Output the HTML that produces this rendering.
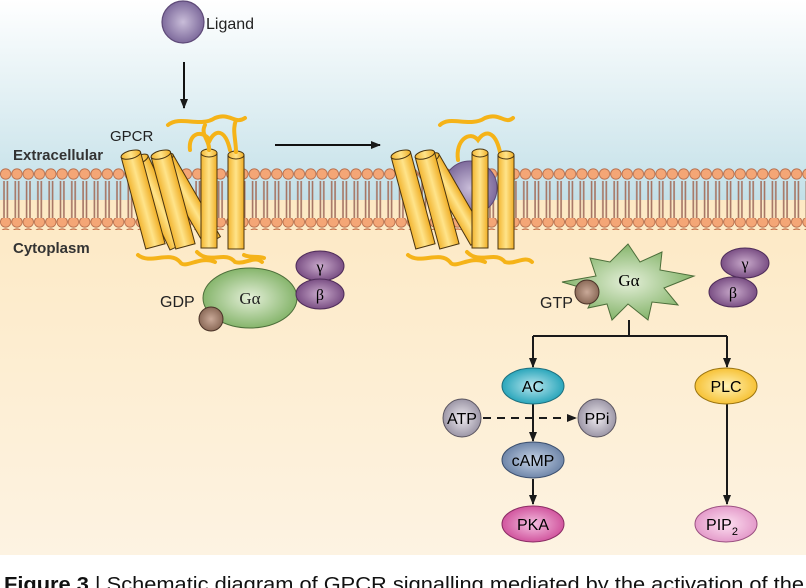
<!DOCTYPE html>
<html><head><meta charset="utf-8"><style>
html,body{margin:0;padding:0;background:#fff}
svg{display:block}
text{font-family:"Liberation Sans",sans-serif}
</style></head><body>
<svg width="806" height="588" viewBox="0 0 806 588" xmlns="http://www.w3.org/2000/svg">
<defs>
<linearGradient id="bg" x1="0" y1="0" x2="0" y2="1">
<stop offset="0" stop-color="#ffffff"/><stop offset="1" stop-color="#c3e0e8"/></linearGradient>
<linearGradient id="bg2" x1="0" y1="0" x2="0" y2="1">
<stop offset="0" stop-color="#fde9c4"/><stop offset="1" stop-color="#fdf3e2"/></linearGradient>
<radialGradient id="pur"><stop offset="0" stop-color="#c9bdd9"/><stop offset="1" stop-color="#7e6b9c"/></radialGradient>
<radialGradient id="vio"><stop offset="0" stop-color="#c9aacb"/><stop offset="1" stop-color="#7a4f84"/></radialGradient>
<radialGradient id="grn"><stop offset="0" stop-color="#e4efd8"/><stop offset="1" stop-color="#86b56c"/></radialGradient>
<radialGradient id="brn"><stop offset="0" stop-color="#c9a998"/><stop offset="1" stop-color="#8b6a58"/></radialGradient>
<radialGradient id="teal"><stop offset="0" stop-color="#b8e6ee"/><stop offset="1" stop-color="#2aa6bb"/></radialGradient>
<radialGradient id="gry"><stop offset="0" stop-color="#eeeaf0"/><stop offset="1" stop-color="#9c96a6"/></radialGradient>
<radialGradient id="blu"><stop offset="0" stop-color="#c6d3e6"/><stop offset="1" stop-color="#6f86a9"/></radialGradient>
<radialGradient id="yel"><stop offset="0" stop-color="#fff3b8"/><stop offset="1" stop-color="#f7c236"/></radialGradient>
<radialGradient id="pk"><stop offset="0" stop-color="#f4bfe0"/><stop offset="1" stop-color="#d1559e"/></radialGradient>
<radialGradient id="pk2"><stop offset="0" stop-color="#fde0f1"/><stop offset="1" stop-color="#e49bca"/></radialGradient>
<linearGradient id="cyl" x1="0" y1="0" x2="1" y2="0"><stop offset="0" stop-color="#f2b531"/><stop offset="0.5" stop-color="#ffe48a"/><stop offset="1" stop-color="#f0ae25"/></linearGradient>
<pattern id="heads" x="0" y="0" width="11.3" height="12" patternUnits="userSpaceOnUse">
<circle cx="5.65" cy="6" r="5.2" fill="#f4a676" stroke="#b46a48" stroke-width="0.8"/></pattern>
<pattern id="tails" x="0" y="0" width="11.3" height="40" patternUnits="userSpaceOnUse">
<rect x="3.2" y="0" width="1.6" height="40" fill="#a57463"/><rect x="6.6" y="0" width="1.6" height="40" fill="#a57463"/></pattern>
<marker id="ah" markerWidth="10" markerHeight="10" refX="9" refY="5" orient="auto" markerUnits="userSpaceOnUse"><path d="M0,1 L10,5 L0,9 Z" fill="#1a1a1a"/></marker>
</defs>
<rect x="0" y="0" width="806" height="200" fill="url(#bg)"/>
<rect x="0" y="200" width="806" height="355" fill="url(#bg2)"/>
<rect x="0" y="181" width="806" height="38" fill="url(#tails)"/>
<rect x="0" y="168" width="806" height="12" fill="url(#heads)"/>
<rect x="0" y="218" width="806" height="12" fill="url(#heads)"/>

<circle cx="183" cy="22" r="21" fill="url(#pur)" stroke="#5e4a78" stroke-width="1.2"/>
<text x="206" y="29" font-size="16" fill="#222">Ligand</text>
<line x1="184" y1="62" x2="184" y2="108" stroke="#111" stroke-width="2" marker-end="url(#ah)"/>
<line x1="275" y1="145" x2="380" y2="145" stroke="#111" stroke-width="2" marker-end="url(#ah)"/>
<text x="110" y="141" font-size="15" fill="#222">GPCR</text>
<text x="13" y="160" font-size="15" font-weight="bold" fill="#333">Extracellular</text>
<text x="13" y="253" font-size="15" font-weight="bold" fill="#333">Cytoplasm</text>

<g stroke="#f5b318" stroke-width="4" fill="none" stroke-linecap="round">
<path d="M168,125 C180,115 200,128 215,118 C230,112 235,125 245,118"/>
<path d="M190,150 C188,135 200,128 210,140 C215,130 225,128 230,150"/>
<path d="M138,255 C150,265 170,250 180,262 C185,270 200,255 215,262"/>
<path d="M197,252 C210,265 225,250 235,262 C245,265 255,255 262,262"/>
</g>
<g stroke="#4a3510" stroke-width="1" fill="url(#cyl)">
<g transform="rotate(-25 160 205)"><rect x="150" y="155" width="20" height="95"/><ellipse cx="160" cy="155" rx="10" ry="4"/></g>
<g transform="rotate(-15 143 200)"><rect x="133" y="153" width="20" height="95"/><ellipse cx="143" cy="153" rx="10" ry="4"/></g>
<g transform="rotate(-30 190 200)"><rect x="180" y="152" width="18" height="95"/><ellipse cx="189" cy="152" rx="9" ry="4"/></g>
<g transform="rotate(-15 173 200)"><rect x="163" y="153" width="20" height="95"/><ellipse cx="173" cy="153" rx="10" ry="4"/></g>
<rect x="201" y="153" width="16" height="95"/><ellipse cx="209" cy="153" rx="8" ry="4"/>
<rect x="228" y="155" width="16" height="94"/><ellipse cx="236" cy="155" rx="8" ry="4"/>
</g>
<g stroke="#f5b318" stroke-width="4" fill="none" stroke-linecap="round">
<path d="M236,152 C236,140 232,130 236,120"/>
<path d="M209,150 C210,140 200,135 205,125"/>
<path d="M244,255 C250,258 258,256 264,258"/>
</g>
<ellipse cx="250" cy="298" rx="47" ry="30" fill="url(#grn)" stroke="#4c6e3a" stroke-width="1"/>
<text x="250" y="304" font-size="17" text-anchor="middle" style="font-family:'Liberation Serif',serif" fill="#222">Gα</text>
<ellipse cx="320" cy="266" rx="24" ry="15" fill="url(#vio)" stroke="#4f2d5a"/>
<ellipse cx="320" cy="294" rx="24" ry="15" fill="url(#vio)" stroke="#4f2d5a"/>
<text x="320" y="272" font-size="16" text-anchor="middle" style="font-family:'Liberation Serif',serif">γ</text>
<text x="320" y="300" font-size="16" text-anchor="middle" style="font-family:'Liberation Serif',serif">β</text>
<circle cx="211" cy="319" r="12" fill="url(#brn)" stroke="#4a3328"/>
<text x="160" y="307" font-size="16" fill="#222">GDP</text>

<g stroke="#f5b318" stroke-width="4" fill="none" stroke-linecap="round">
<path d="M440,125 C450,115 470,128 485,118 C500,112 505,125 513,118"/>
<path d="M458,160 C455,140 470,130 478,140 C485,130 495,130 500,152"/>
<path d="M408,255 C420,265 440,250 450,262 C455,270 470,255 485,262"/>
<path d="M467,252 C480,265 495,250 505,262 C515,265 525,255 532,262"/>
</g>
<circle cx="470" cy="188" r="27" fill="url(#pur)" stroke="#5e4a78"/>
<g stroke="#4a3510" stroke-width="1" fill="url(#cyl)">
<g transform="rotate(-15 413 200)"><rect x="403" y="153" width="20" height="95"/><ellipse cx="413" cy="153" rx="10" ry="4"/></g>
<g transform="rotate(-30 455 200)"><rect x="446" y="152" width="18" height="95"/><ellipse cx="455" cy="152" rx="9" ry="4"/></g>
<g transform="rotate(-15 437 200)"><rect x="427" y="153" width="20" height="95"/><ellipse cx="437" cy="153" rx="10" ry="4"/></g>
<rect x="472" y="153" width="16" height="95"/><ellipse cx="480" cy="153" rx="8" ry="4"/>
<rect x="498" y="155" width="16" height="94"/><ellipse cx="506" cy="155" rx="8" ry="4"/>
</g>
<path d="M628,244 L640,262 L662,252 L660,270 L694,276 L664,288 L678,305 L652,302 L648,320 L628,304 L612,320 L607,304 L588,308 L596,292 L562,282 L596,276 L590,258 L610,262 Z" fill="url(#grn)" stroke="#4c6e3a"/>
<text x="629" y="286" font-size="17" text-anchor="middle" style="font-family:'Liberation Serif',serif">Gα</text>
<circle cx="587" cy="292" r="12" fill="url(#brn)" stroke="#4a3328"/>
<text x="540" y="308" font-size="16" fill="#222">GTP</text>
<ellipse cx="745" cy="263" rx="24" ry="15" fill="url(#vio)" stroke="#4f2d5a"/>
<ellipse cx="733" cy="292" rx="24" ry="15" fill="url(#vio)" stroke="#4f2d5a"/>
<text x="745" y="269" font-size="16" text-anchor="middle" style="font-family:'Liberation Serif',serif">γ</text>
<text x="733" y="298" font-size="16" text-anchor="middle" style="font-family:'Liberation Serif',serif">β</text>

<g stroke="#1a1a1a" stroke-width="2" fill="none">
<line x1="629" y1="320" x2="629" y2="336"/>
<line x1="533" y1="336" x2="727" y2="336"/>
<line x1="533" y1="336" x2="533" y2="367" marker-end="url(#ah)"/>
<line x1="727" y1="336" x2="727" y2="367" marker-end="url(#ah)"/>
<line x1="533" y1="404" x2="533" y2="441" marker-end="url(#ah)"/>
<line x1="533" y1="479" x2="533" y2="504" marker-end="url(#ah)"/>
<line x1="727" y1="404" x2="727" y2="504" marker-end="url(#ah)"/>
<line x1="483" y1="418" x2="576" y2="418" stroke-dasharray="8,6" marker-end="url(#ah)"/>
</g>
<ellipse cx="533" cy="386" rx="31" ry="18" fill="url(#teal)" stroke="#1e6f7d"/>
<text x="533" y="392" font-size="16" text-anchor="middle">AC</text>
<circle cx="462" cy="418" r="19" fill="url(#gry)" stroke="#5a5560"/>
<text x="462" y="424" font-size="16" text-anchor="middle">ATP</text>
<circle cx="597" cy="418" r="19" fill="url(#gry)" stroke="#5a5560"/>
<text x="597" y="424" font-size="16" text-anchor="middle">PPi</text>
<ellipse cx="533" cy="460" rx="31" ry="18" fill="url(#blu)" stroke="#3b4f6e"/>
<text x="533" y="466" font-size="16" text-anchor="middle">cAMP</text>
<ellipse cx="533" cy="524" rx="31" ry="18" fill="url(#pk)" stroke="#8a2c63"/>
<text x="533" y="530" font-size="16" text-anchor="middle">PKA</text>
<ellipse cx="726" cy="386" rx="31" ry="18" fill="url(#yel)" stroke="#9a7410"/>
<text x="726" y="392" font-size="16" text-anchor="middle">PLC</text>
<ellipse cx="726" cy="524" rx="31" ry="18" fill="url(#pk2)" stroke="#9a4f80"/>
<text x="722" y="530" font-size="16" text-anchor="middle">PIP<tspan font-size="11" dy="5">2</tspan></text>

<text x="4" y="591" font-size="20" fill="#111" textLength="800" lengthAdjust="spacingAndGlyphs"><tspan font-weight="bold">Figure 3</tspan> | Schematic diagram of GPCR signalling mediated by the activation of the</text>
</svg>
</body></html>
